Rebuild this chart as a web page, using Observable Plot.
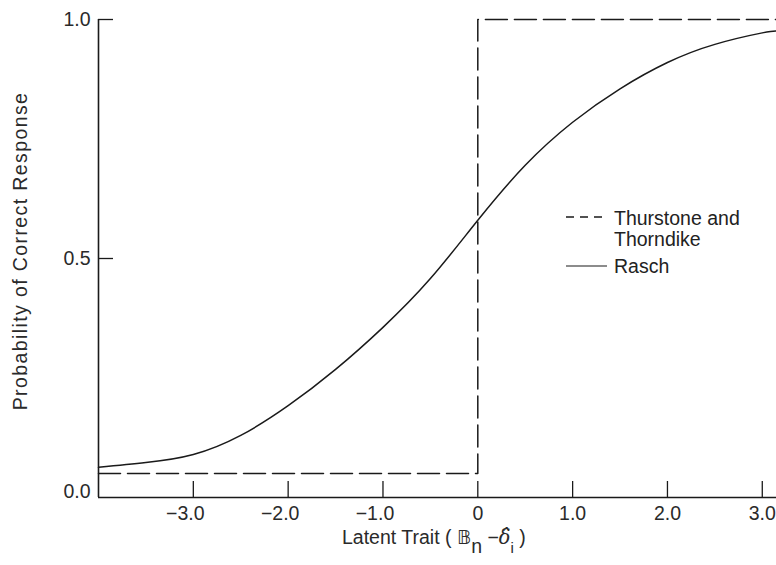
<!DOCTYPE html>
<html>
<head>
<meta charset="utf-8">
<script src="https://cdn.jsdelivr.net/npm/d3@7"></script>
<script src="https://cdn.jsdelivr.net/npm/@observablehq/plot@0.6"></script>
<style>
  html, body { margin: 0; padding: 0; background: #fff; }
  #chart svg { display: block; }
</style>
</head>
<body>
<div id="chart"></div>
<script>
// Rasch curve
const raschX = [-4.0, -3.5, -3.0, -2.5, -2.0, -1.5, -1.0, -0.5, 0.0, 0.5, 1.0, 1.5, 2.0, 2.5, 3.0, 3.15];
const raschP = [0.063, 0.073, 0.090, 0.130, 0.192, 0.268, 0.356, 0.458, 0.580, 0.695, 0.785, 0.855, 0.910, 0.948, 0.972, 0.976];
// Thurstone and Thorndike step function
const thurstoneX = [-4.0, 0.0, 0.0, 3.15];
const thurstoneP = [0.05, 0.05, 1.0, 1.0];
// Ticks
const xTicks = [-3, -2, -1, 0, 1, 2, 3];
const yTicks = [0.5, 1.0];
const xDomain = [-4.0, 3.15];

const rasch = raschX.map((x, i) => ({x, p: raschP[i]}));
const thurstone = thurstoneX.map((x, i) => ({x, p: thurstoneP[i]}));

const fmtX = d => d === 0 ? "0" : (d < 0 ? "\u2212" : "") + Math.abs(d).toFixed(1);
const fmtY = d => d.toFixed(1);

const FONT = "Liberation Sans, Arial, Helvetica, sans-serif";
const INK = "#1a1a1a";
const TXT = "#2a2a2a";

const plot = Plot.plot({
  width: 776,
  height: 565,
  marginLeft: 98,
  marginRight: 0,
  marginTop: 19,
  marginBottom: 68,
  style: {fontFamily: FONT, fontSize: "19.5px", color: TXT, background: "#fff"},
  x: {domain: xDomain, axis: null},
  y: {domain: [0, 1], axis: null},
  marks: [
    // axis lines
    Plot.ruleY([0], {stroke: INK, strokeWidth: 1.6}),
    Plot.ruleX([xDomain[0]], {y1: 0, y2: 1, stroke: INK, strokeWidth: 1.6}),
    // inward ticks
    Plot.axisX(xTicks, {anchor: "bottom", tickSize: -16, text: null, label: null, stroke: INK, strokeWidth: 1.3}),
    Plot.axisY(yTicks, {anchor: "left", tickSize: -15, text: null, label: null, stroke: INK, strokeWidth: 1.3}),
    // tick labels
    Plot.axisX(xTicks.filter(d => d < 0), {anchor: "bottom", tickSize: 0, tickPadding: 9, tickFormat: fmtX, dx: -8, label: null, fill: TXT}),
    Plot.axisX(xTicks.filter(d => d >= 0), {anchor: "bottom", tickSize: 0, tickPadding: 9, tickFormat: fmtX, label: null, fill: TXT}),
    Plot.axisY(yTicks, {anchor: "left", tickSize: 0, tickPadding: 8, tickFormat: fmtY, label: null, fill: TXT}),
    Plot.axisY([0], {anchor: "left", tickSize: 0, tickPadding: 8, tickFormat: fmtY, label: null, dy: -6, fill: TXT}),
    // data
    Plot.line(thurstone, {x: "x", y: "p", stroke: INK, strokeWidth: 1.5, strokeDasharray: "22,7"}),
    Plot.line(rasch, {x: "x", y: "p", curve: "natural", stroke: INK, strokeWidth: 1.5})
  ]
});

const svg = d3.select(plot);

// y-axis title
svg.append("text")
  .attr("transform", "translate(27,251) rotate(-90)")
  .attr("text-anchor", "middle")
  .attr("font-family", FONT)
  .attr("font-size", "19.5px")
  .attr("letter-spacing", "1.4px")
  .attr("fill", TXT)
  .text("Probability of Correct Response");

// x-axis title with subscripts
const xt = svg.append("text")
  .attr("x", 342)
  .attr("y", 544)
  .attr("text-anchor", "start")
  .attr("font-family", FONT)
  .attr("font-size", "19.5px")
  .attr("fill", TXT);
xt.append("tspan").text("Latent Trait ( ");
xt.append("tspan").attr("font-family", "DejaVu Sans, sans-serif").text("\u{1D539}");
xt.append("tspan").attr("dy", 9).text("n");
xt.append("tspan").attr("dy", -9).text(" \u2212");
xt.append("tspan").attr("font-family", "DejaVu Serif, serif").attr("font-style", "italic").text("\u03B4\u0302");
xt.append("tspan").attr("dy", 9).attr("font-size", "15px").text("i");
xt.append("tspan").attr("dy", -9).text(" )");

// legend
const lg = svg.append("g")
  .attr("font-family", FONT)
  .attr("font-size", "19.5px")
  .attr("text-anchor", "start")
  .attr("fill", "#222");
lg.append("line").attr("x1", 566).attr("x2", 607).attr("y1", 217).attr("y2", 217)
  .attr("stroke", INK).attr("stroke-width", 1.4).attr("stroke-dasharray", "8,6");
lg.append("text").attr("x", 614).attr("y", 225).text("Thurstone and");
lg.append("text").attr("x", 614).attr("y", 246).text("Thorndike");
lg.append("line").attr("x1", 566).attr("x2", 607).attr("y1", 266).attr("y2", 266)
  .attr("stroke", INK).attr("stroke-width", 1.2);
lg.append("text").attr("x", 614).attr("y", 273).text("Rasch");

document.getElementById("chart").appendChild(plot);
</script>
</body>
</html>
